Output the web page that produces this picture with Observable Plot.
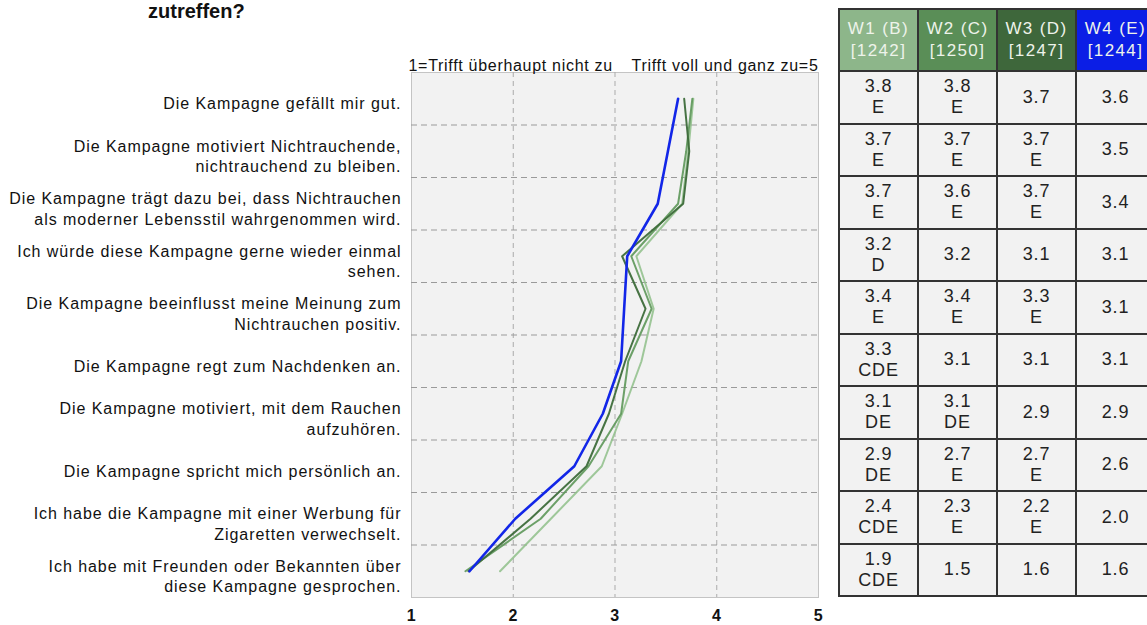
<!DOCTYPE html>
<html>
<head>
<meta charset="utf-8">
<script src="https://cdn.jsdelivr.net/npm/d3@7"></script>
<script src="https://cdn.jsdelivr.net/npm/@observablehq/plot@0.6"></script>
<style>
  html, body { margin:0; padding:0; background:#fff; width:1147px; height:625px; overflow:hidden;
    font-family:"Liberation Sans", Arial, sans-serif; }
  #wrap { position:relative; width:1147px; height:625px; overflow:hidden; }
  #title { position:absolute; left:148px; top:0px; font-size:20px; font-weight:bold; color:#111; }
  #chart { position:absolute; left:0; top:0; }
  #chart svg text { letter-spacing:0.6px; }
  #chart svg g[aria-label="text"] text { letter-spacing:0.7px; }
  #chart svg g[aria-label="y-axis tick label"] text { letter-spacing:0.95px; }
  #tbl { position:absolute; left:838px; top:8px; border-collapse:collapse; table-layout:fixed; width:316px; }
  #tbl th, #tbl td { border:2px solid #333; padding:0; text-align:center; vertical-align:middle; }
  #tbl th { height:60px; font-weight:normal; font-size:17px; line-height:22px; letter-spacing:1.4px; color:#eef3ea; }
  #tbl td { height:50.5px; background:#f2f2f2; font-size:18px; line-height:21px; color:#222; letter-spacing:0.9px; }
</style>
</head>
<body>
<div id="wrap">
  <div id="chart"></div>
  <div id="title">zutreffen?</div>
  <table id="tbl"></table>
</div>
<script>
// ---- data ----
const statements = [
  "Die Kampagne gefällt mir gut.",
  "Die Kampagne motiviert Nichtrauchende,\nnichtrauchend zu bleiben.",
  "Die Kampagne trägt dazu bei, dass Nichtrauchen\nals moderner Lebensstil wahrgenommen wird.",
  "Ich würde diese Kampagne gerne wieder einmal\nsehen.",
  "Die Kampagne beeinflusst meine Meinung zum\nNichtrauchen positiv.",
  "Die Kampagne regt zum Nachdenken an.",
  "Die Kampagne motiviert, mit dem Rauchen\naufzuhören.",
  "Die Kampagne spricht mich persönlich an.",
  "Ich habe die Kampagne mit einer Werbung für\nZigaretten verwechselt.",
  "Ich habe mit Freunden oder Bekannten über\ndiese Kampagne gesprochen."
];
const waves = ["W1 (B)", "W2 (C)", "W3 (D)", "W4 (E)"];
const sampleSizes = ["[1242]", "[1250]", "[1247]", "[1244]"];
const w1Means = [3.77, 3.72, 3.66, 3.21, 3.38, 3.26, 3.07, 2.87, 2.37, 1.87];
const w2Means = [3.76, 3.70, 3.62, 3.16, 3.36, 3.13, 3.06, 2.74, 2.27, 1.53];
const w3Means = [3.68, 3.73, 3.67, 3.07, 3.30, 3.10, 2.94, 2.72, 2.17, 1.56];
const w4Means = [3.62, 3.52, 3.42, 3.12, 3.09, 3.06, 2.88, 2.60, 2.02, 1.57];
const w1Sig = ["E", "E", "E", "D", "E", "CDE", "DE", "DE", "CDE", "CDE"];
const w2Sig = ["E", "E", "E", "", "E", "", "DE", "E", "E", ""];
const w3Sig = ["", "E", "E", "", "E", "", "", "E", "E", ""];
const w4Sig = ["", "", "", "", "", "", "", "", "", ""];
const xTicks = [1, 2, 3, 4, 5];
const scaleLow = "1=Trifft überhaupt nicht zu";
const scaleHigh = "Trifft voll und ganz zu=5";

// ---- styles ----
const waveColors = ["#8fbf8a", "#5d9759", "#3d6b3a", "#1226e8"];
const headerColors = ["#8db68a", "#5a8e57", "#3e673b", "#0b1ee6"];
const lineWidths = [2, 2, 2, 2.6];
const lineOpacity = [0.85, 0.9, 0.95, 1];

const means = [w1Means, w2Means, w3Means, w4Means];
const sigs = [w1Sig, w2Sig, w3Sig, w4Sig];

const lineMarks = means.map((arr, k) =>
  Plot.line(arr.map((v, i) => ({i, v})), {
    x: "v", y: "i", stroke: waveColors[k], strokeWidth: lineWidths[k],
    strokeOpacity: lineOpacity[k], strokeLinejoin: "round"
  })
);

const font = '"Liberation Sans", Arial, sans-serif';
const chart = Plot.plot({
  width: 830, height: 625,
  marginLeft: 411, marginRight: 12, marginTop: 72, marginBottom: 28,
  style: {fontFamily: font, fontSize: "16px", color: "#111", background: "transparent"},
  x: {domain: [1, 5], label: null},
  y: {domain: [-0.5, statements.length - 0.5], reverse: true, label: null},
  marks: [
    Plot.frame({fill: "#f2f2f2", stroke: "#c4c4c4"}),
    Plot.ruleX(xTicks.slice(1, -1), {stroke: "#ababab", strokeDasharray: "5,4"}),
    Plot.ruleY(d3.range(0.5, statements.length - 1, 1), {stroke: "#9a9a9a", strokeDasharray: "6,4"}),
    ...lineMarks,
    Plot.axisX({ticks: xTicks, tickSize: 0, tickPadding: 12, fontSize: 16, fontWeight: "bold", label: null, tickFormat: d3.format("d")}),
    Plot.axisY({ticks: d3.range(statements.length), tickFormat: i => statements[i], label: null,
      tickSize: 0, tickPadding: 10, fontSize: 16, lineHeight: 1.3, dy: 4}),
    Plot.text([scaleLow], {text: d => d, frameAnchor: "top-left", textAnchor: "start", dy: -13, dx: -3, fontSize: 16}),
    Plot.text([scaleHigh], {text: d => d, frameAnchor: "top-right", textAnchor: "end", dy: -13, fontSize: 16})
  ]
});
document.getElementById("chart").appendChild(chart);

// ---- table ----
const fmt = d3.format(".1f");
const tbl = d3.select("#tbl");
const cg = tbl.append("colgroup");
waves.forEach(() => cg.append("col").style("width", "79px"));
const hr = tbl.append("tr");
waves.forEach((w, k) => {
  hr.append("th").style("background", headerColors[k]).html(w + "<br>" + sampleSizes[k]);
});
statements.forEach((s, i) => {
  const tr = tbl.append("tr");
  means.forEach((arr, k) => {
    const sig = sigs[k][i];
    tr.append("td").html(fmt(arr[i]) + (sig ? "<br>" + sig : ""));
  });
});
</script>
</body>
</html>
